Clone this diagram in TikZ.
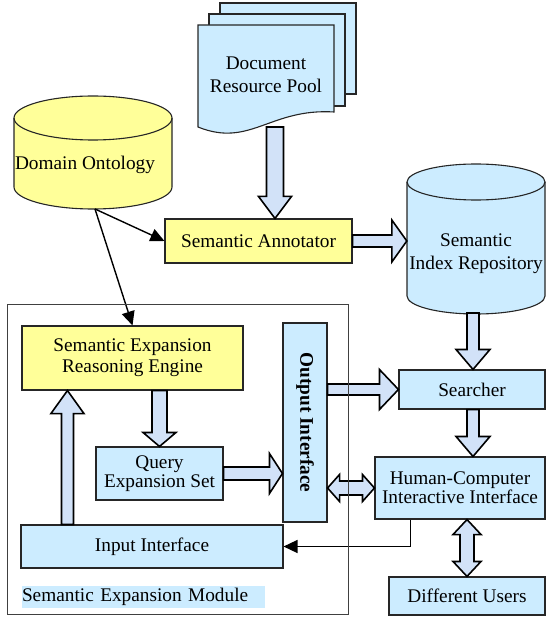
\documentclass[tikz,border=0pt]{standalone}
\usepackage{fontspec}
\setmainfont{Liberation Serif}
\usepackage{graphicx}
\usetikzlibrary{calc,arrows.meta}

\definecolor{paleyellow}{RGB}{255,255,153}
\definecolor{paleblue}{RGB}{204,236,255}
\definecolor{arrowblue}{RGB}{210,226,248}
\definecolor{framegray}{RGB}{64,64,64}

\tikzset{
    txt/.style={inner sep=0pt, align=center},
    loose/.style={font=\fontsize{19.3}{23}\selectfont},
    tight/.style={font=\fontsize{19.3}{19}\selectfont},
    box/.style={txt, draw=black!85, line width=1.1pt, fill=paleblue},
    ybox/.style={box, fill=paleyellow},
    page/.style={draw=black!85, line width=1.1pt, fill=paleblue},
    drum/.style={draw=black!85, line width=1.1pt},
    link/.style={draw=black, line width=1.4pt, -{Triangle[length=14pt,width=13pt]}},
    frame/.style={draw=framegray, line width=1pt},
    fat shaft/.store in=\fatshaft,
    fat head/.store in=\fathead,
    fat len/.store in=\fatlen,
    fat shaft=6pt, fat head=17pt, fat len=20pt,
    fatarrow/.style={draw=black, line width=1.6pt, fill=arrowblue, line join=miter},
}

% hollow block arrow from #2 to #3
\newcommand{\blockarrow}[3][]{%
    \begin{scope}[#1]
        \coordinate (ba-s) at #2;
        \coordinate (ba-e) at #3;
        \coordinate (ba-h) at ($(ba-e)!\fatlen!(ba-s)$);
        \path[fatarrow] ($(ba-s)!\fatshaft!90:(ba-e)$) -- ($(ba-h)!\fatshaft!90:(ba-e)$)
            -- ($(ba-h)!\fathead!90:(ba-e)$) -- (ba-e)
            -- ($(ba-h)!\fathead!-90:(ba-e)$) -- ($(ba-h)!\fatshaft!-90:(ba-e)$)
            -- ($(ba-s)!\fatshaft!-90:(ba-e)$) -- cycle;
    \end{scope}}

% hollow block arrow with two heads
\newcommand{\blockdarrow}[3][]{%
    \begin{scope}[#1]
        \coordinate (ba-s) at #2;
        \coordinate (ba-e) at #3;
        \coordinate (ba-h) at ($(ba-e)!\fatlen!(ba-s)$);
        \coordinate (ba-t) at ($(ba-s)!\fatlen!(ba-e)$);
        \path[fatarrow] (ba-s) -- ($(ba-t)!\fathead!90:(ba-e)$) -- ($(ba-t)!\fatshaft!90:(ba-e)$)
            -- ($(ba-h)!\fatshaft!90:(ba-e)$) -- ($(ba-h)!\fathead!90:(ba-e)$) -- (ba-e)
            -- ($(ba-h)!\fathead!-90:(ba-e)$) -- ($(ba-h)!\fatshaft!-90:(ba-e)$)
            -- ($(ba-t)!\fatshaft!-90:(ba-e)$) -- ($(ba-t)!\fathead!-90:(ba-e)$) -- cycle;
    \end{scope}}

\begin{document}
\begin{tikzpicture}[x=1pt, y=-1pt, font=\fontsize{19.3}{21}\selectfont]
    \useasboundingbox (0,0) rectangle (546,617);

    % Document resource pool (stack of pages)
    \draw[page] (220,3) rectangle (356,94);
    \draw[page] (209,14) rectangle (345,106);
    \draw[page] (198,25) -- (334,25) -- (334,112) .. controls (270,108) and (250,148) .. (198,127) -- cycle;
    \node[txt, loose] (docs) at (266,75) {Document\\Resource Pool};
    \coordinate (docs-foot) at (275,127);

    % Domain ontology
    \draw[drum, fill=paleyellow] (14,118) -- (14,187)
        arc[start angle=180, end angle=360, x radius=79pt, y radius=22pt] -- (172,118)
        arc[start angle=0, end angle=180, x radius=79pt, y radius=22pt] -- cycle;
    \draw[drum] (14,118) arc[start angle=180, end angle=360, x radius=79pt, y radius=22pt];
    \node[txt] (onto) at (85,165) {Domain Ontology};
    \coordinate (onto-foot) at (95,209);

    % Semantic index repository
    \draw[drum, fill=paleblue] (407,182) -- (407,296)
        arc[start angle=180, end angle=360, x radius=69pt, y radius=18pt] -- (545,182)
        arc[start angle=0, end angle=180, x radius=69pt, y radius=18pt] -- cycle;
    \draw[drum] (407,182) arc[start angle=180, end angle=360, x radius=69pt, y radius=18pt];
    \node[txt, loose, minimum width=138pt] (repo) at (476,254) {Semantic\\Index Repository};
    \coordinate (repo-foot) at (473,313);

    \node[ybox, minimum width=187pt, minimum height=44pt] (annot) at (258.5,241) {Semantic Annotator};

    % Semantic expansion module
    \node[ybox, minimum width=221pt, minimum height=64pt] (engine) at (132.5,358) {Semantic Expansion\\Reasoning Engine};
    \node[box, minimum width=44pt, minimum height=199pt] (output) at (305,422.5) {\rotatebox[origin=c]{-90}{\bfseries Output Interface}};
    \node[box, tight, minimum width=127pt, minimum height=53pt] (query) at (159.5,473.5) {Query\\Expansion Set};
    \node[box, minimum width=262pt, minimum height=43pt] (input) at (152,546.5) {Input Interface};
    \node[txt, fill=paleblue, text width=243pt, align=left, minimum height=22pt] (modlabel) at (143.5,597) {Semantic Expansion Module};
    \coordinate (lift) at ([xshift=47pt]input.north west);

    % Right column
    \node[box, minimum width=146pt, minimum height=39pt] (search) at (472,389.5) {Searcher};
    \node[box, tight, minimum width=170pt, minimum height=62pt] (hci) at (460,488) {Human-Computer\\Interactive Interface};
    \node[box, minimum width=156pt, minimum height=38pt] (users) at (467,596) {Different Users};

    % Plain connectors
    \draw[link] (onto-foot) -- (annot.west);
    \draw[link] (onto-foot) -- (engine.north);
    \draw[link] ([xshift=36pt]hci.south west) |- (input.east);

    % Block arrows
    \blockarrow[fat shaft=8.5pt, fat head=16.5pt, fat len=22pt]{(docs-foot)}{(docs-foot |- annot.north)}
    \blockarrow[fat head=21pt, fat len=15pt]{(annot.east)}{(annot.east -| repo.west)}
    \blockarrow{(repo-foot)}{(repo-foot |- search.north)}
    \blockarrow{(search.south -| repo-foot)}{(repo-foot |- hci.north)}
    \blockarrow[fat shaft=5.5pt, fat head=20pt, fat len=19pt]{(output.east |- search.west)}{(search.west)}
    \blockarrow[fat shaft=7.5pt, fat head=16.5pt, fat len=14pt]{(query.north |- engine.south)}{(query.north)}
    \blockarrow[fat head=16.5pt, fat len=23pt]{(lift)}{(lift |- engine.south)}
    \blockarrow[fat shaft=6.5pt, fat head=20pt, fat len=13pt]{(query.east)}{(query.east -| output.west)}
    \blockdarrow[fat shaft=7pt, fat head=13.5pt, fat len=12pt]{(output.east |- hci.west)}{(hci.west)}
    \blockdarrow[fat shaft=7pt, fat head=14pt, fat len=15pt]{(users.north |- hci.south)}{(users.north)}

    % Module frame
    \draw[frame] (7,304) rectangle (348,614);
\end{tikzpicture}
\end{document}
